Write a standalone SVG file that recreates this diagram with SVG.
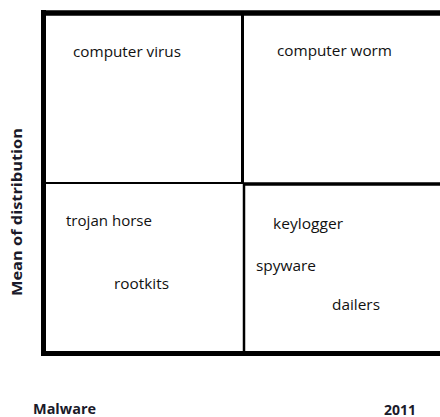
<svg xmlns="http://www.w3.org/2000/svg" width="440" height="417" viewBox="0 0 440 417">
  <style>
    .lbl { font-family: "Open Sans", "Liberation Sans", sans-serif; font-size: 15px; fill: #111; }
    .axis { font-family: "Open Sans", "Liberation Sans", sans-serif; font-size: 14px; font-weight: bold; fill: #1a1a2a; }
    .frame { stroke: #000; fill: none; }
  </style>
  <rect width="440" height="417" fill="#fff"/>

  <!-- quadrant grid -->
  <g id="grid" class="frame">
    <line x1="41" y1="13" x2="440" y2="13" stroke-width="5.5"/>
    <line x1="43.5" y1="10" x2="43.5" y2="356" stroke-width="5"/>
    <line x1="41" y1="353.5" x2="440" y2="353.5" stroke-width="5"/>
    <line x1="242.5" y1="13" x2="242.5" y2="183" stroke-width="3"/>
    <line x1="244" y1="183" x2="244" y2="353" stroke-width="2.5"/>
    <line x1="44" y1="183" x2="244" y2="183" stroke-width="2"/>
    <line x1="244" y1="184" x2="440" y2="184" stroke-width="3.5"/>
  </g>

  <g id="q-top-left">
    <text class="lbl" x="73" y="57" textLength="108" lengthAdjust="spacingAndGlyphs">computer virus</text>
  </g>
  <g id="q-top-right">
    <text class="lbl" x="277" y="56" textLength="115" lengthAdjust="spacingAndGlyphs">computer worm</text>
  </g>
  <g id="q-bottom-left">
    <text class="lbl" x="66" y="226" textLength="86" lengthAdjust="spacingAndGlyphs">trojan horse</text>
    <text class="lbl" x="114" y="289" textLength="55" lengthAdjust="spacingAndGlyphs">rootkits</text>
  </g>
  <g id="q-bottom-right">
    <text class="lbl" x="273" y="229" textLength="70" lengthAdjust="spacingAndGlyphs">keylogger</text>
    <text class="lbl" x="256" y="271" textLength="60" lengthAdjust="spacingAndGlyphs">spyware</text>
    <text class="lbl" x="332" y="310" textLength="48" lengthAdjust="spacingAndGlyphs">dailers</text>
  </g>

  <g id="axes">
    <text class="axis" transform="translate(22,212) rotate(-90)" text-anchor="middle" textLength="168" lengthAdjust="spacingAndGlyphs">Mean of distribution</text>
    <text class="axis" x="33" y="414" textLength="63" lengthAdjust="spacingAndGlyphs">Malware</text>
    <text class="axis" x="384" y="415" textLength="32" lengthAdjust="spacingAndGlyphs">2011</text>
  </g>
</svg>
